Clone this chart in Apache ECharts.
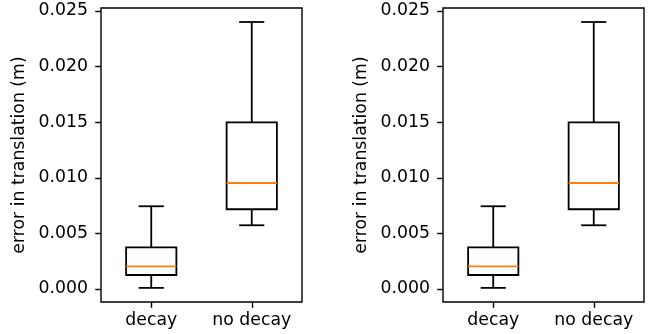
<!DOCTYPE html>
<html>
<head>
<meta charset="utf-8">
<style>
    html, body { margin: 0; padding: 0; background: #fff; }
    #chart { width: 655px; height: 334px; }
</style>
</head>
<body>
<div id="chart"></div>
<script src="https://cdn.jsdelivr.net/npm/echarts@6/dist/echarts.min.js"></script>
<script>
    // categories and box stats: [low whisker, q1, median, q3, high whisker]
    var categories = ['decay', 'no decay'];
    var decayStats = [0.0001, 0.00126, 0.00204, 0.00375, 0.00744];
    var noDecayStats = [0.00573, 0.00717, 0.00953, 0.01499, 0.02401];
    var yTicks = [0, 0.005, 0.010, 0.015, 0.020, 0.025];
    var yName = 'error in translation (m)';

    var boxData = [
        [0].concat(decayStats),
        [1].concat(noDecayStats)
    ];

    var font = 'DejaVu Sans';
    var fs = 17.3;
    var lw = 1.8;

    function renderBox(params, api) {
        var idx = api.value(0);
        var low = api.coord([idx, api.value(1)]);
        var q1 = api.coord([idx, api.value(2)]);
        var med = api.coord([idx, api.value(3)]);
        var q3 = api.coord([idx, api.value(4)]);
        var high = api.coord([idx, api.value(5)]);
        var band = api.size([1, 0])[0];
        var half = band * 0.25;
        var cap = band * 0.125;
        var x = low[0];
        var black = { stroke: '#000', lineWidth: lw, fill: null };
        return {
            type: 'group',
            children: [
                { type: 'rect', shape: { x: x - half, y: q3[1], width: half * 2, height: q1[1] - q3[1] }, style: black },
                { type: 'line', shape: { x1: x, y1: q1[1], x2: x, y2: low[1] }, style: black },
                { type: 'line', shape: { x1: x, y1: q3[1], x2: x, y2: high[1] }, style: black },
                { type: 'line', shape: { x1: x - cap, y1: low[1], x2: x + cap, y2: low[1] }, style: black },
                { type: 'line', shape: { x1: x - cap, y1: high[1], x2: x + cap, y2: high[1] }, style: black },
                { type: 'line', shape: { x1: x - half, y1: med[1], x2: x + half, y2: med[1] }, style: { stroke: '#ff7f0e', lineWidth: lw } }
            ]
        };
    }

    function xAxisFor(i) {
        return {
            type: 'category',
            gridIndex: i,
            data: categories,
            boundaryGap: true,
            axisLine: { show: false, onZero: false },
            axisTick: { show: true, alignWithLabel: true, interval: 0, length: 5.8, lineStyle: { color: '#000', width: 1.4 } },
            axisLabel: { color: '#000', fontFamily: font, fontSize: fs, margin: 10, interval: 0, hideOverlap: false },
            splitLine: { show: false }
        };
    }

    function yAxisFor(i) {
        return {
            type: 'value',
            gridIndex: i,
            min: -0.00117,
            max: 0.02527,
            name: yName,
            nameLocation: 'middle',
            nameRotate: 90,
            nameGap: 73,
            nameTextStyle: { color: '#000', fontFamily: font, fontSize: fs },
            axisLine: { show: false },
            axisTick: { show: true, length: 5.8, customValues: yTicks, lineStyle: { color: '#000', width: 1.4 } },
            axisLabel: {
                color: '#000', fontFamily: font, fontSize: fs, margin: 13,
                customValues: yTicks,
                formatter: function (v) { return v.toFixed(3); }
            },
            splitLine: { show: false }
        };
    }

    var chart = echarts.init(document.getElementById('chart'));
    chart.setOption({
        animation: false,
        grid: [
            { left: 101, top: 8, width: 201, height: 294, show: true, borderColor: '#000', borderWidth: 1.4, backgroundColor: 'transparent' },
            { left: 443, top: 8, width: 201, height: 294, show: true, borderColor: '#000', borderWidth: 1.4, backgroundColor: 'transparent' }
        ],
        xAxis: [xAxisFor(0), xAxisFor(1)],
        yAxis: [yAxisFor(0), yAxisFor(1)],
        series: [
            { type: 'custom', xAxisIndex: 0, yAxisIndex: 0, renderItem: renderBox, data: boxData, encode: { x: 0, y: [1, 2, 3, 4, 5] } },
            { type: 'custom', xAxisIndex: 1, yAxisIndex: 1, renderItem: renderBox, data: boxData, encode: { x: 0, y: [1, 2, 3, 4, 5] } }
        ]
    });
</script>
</body>
</html>
